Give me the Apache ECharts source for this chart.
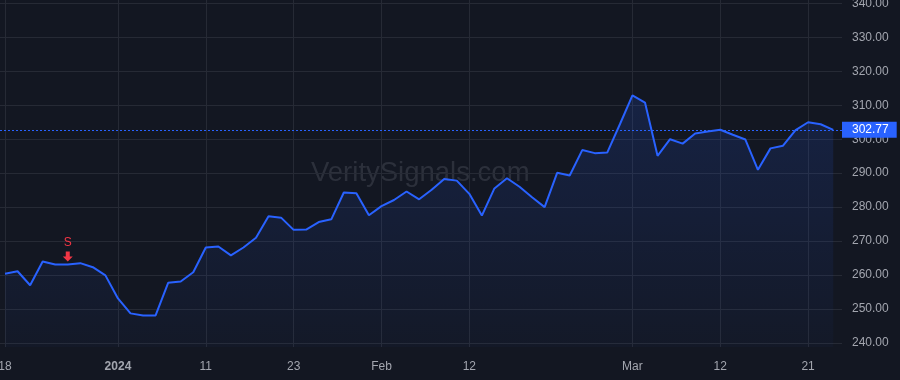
<!DOCTYPE html>
<html>
<head>
<meta charset="utf-8">
<script src="https://cdn.jsdelivr.net/npm/echarts@6/dist/echarts.min.js"></script>
<style>
  html, body { margin: 0; padding: 0; background: #131722; }
  #chart { width: 900px; height: 380px; }
</style>
</head>
<body>
<div id="chart"></div>
<script>
// trading days, Dec 18 2023 -> Mar 25 2024
const dates = [
  '2023-12-18','2023-12-19','2023-12-20','2023-12-21','2023-12-22','2023-12-26','2023-12-27','2023-12-28','2023-12-29',
  '2024-01-02','2024-01-03','2024-01-04','2024-01-05','2024-01-08','2024-01-09','2024-01-10','2024-01-11','2024-01-12',
  '2024-01-16','2024-01-17','2024-01-18','2024-01-19','2024-01-22','2024-01-23','2024-01-24','2024-01-25','2024-01-26',
  '2024-01-29','2024-01-30','2024-01-31',
  '2024-02-01','2024-02-02','2024-02-05','2024-02-06','2024-02-07','2024-02-08','2024-02-09','2024-02-12','2024-02-13',
  '2024-02-14','2024-02-15','2024-02-16','2024-02-20','2024-02-21','2024-02-22','2024-02-23','2024-02-26','2024-02-27',
  '2024-02-28','2024-02-29',
  '2024-03-01','2024-03-04','2024-03-05','2024-03-06','2024-03-07','2024-03-08','2024-03-11','2024-03-12','2024-03-13',
  '2024-03-14','2024-03-15','2024-03-18','2024-03-19','2024-03-20','2024-03-21','2024-03-22','2024-03-25'
];
const prices = [
  260.4, 261.1, 257.0, 264.0, 263.1, 263.1, 263.5, 262.3, 259.9,
  253.1, 248.7, 248.1, 248.1, 257.7, 258.1, 260.8, 268.1, 268.4,
  265.8, 268.1, 271.0, 277.3, 276.9, 273.3, 273.4, 275.6, 276.4,
  284.3, 284.1, 277.6,
  280.3, 282.1, 284.6, 282.3, 285.1, 288.3, 287.8, 283.9, 277.5,
  285.5, 288.5, 286.0, 282.9, 280.0, 290.1, 289.3, 296.8, 295.9,
  296.1, 304.4,
  312.9, 310.8, 295.1, 300.0, 298.7, 301.7, 302.3, 302.8, 301.3,
  299.9, 291.0, 297.3, 298.1, 302.7, 305.0, 304.4, 302.77
];
const tickDates = ['2023-12-18','2024-01-02','2024-01-11','2024-01-23','2024-02-01','2024-02-12','2024-03-01','2024-03-12','2024-03-21'];
const tickLabels = ['18','2024','11','23','Feb','12','Mar','12','21'];
const priceTicks = [240, 250, 260, 270, 280, 290, 300, 310, 320, 330, 340];
const lastPrice = 302.77;
const signalDate = '2023-12-26';
const signalText = 'S';

const chart = echarts.init(document.getElementById('chart'));

const points = prices.map((p, i) => [i, p]);
const tickIdx = tickDates.map(d => dates.indexOf(d));
const sigIdx = dates.indexOf(signalDate);
const font = 'Liberation Sans, Arial, sans-serif';

const option = {
  backgroundColor: '#131722',
  animation: false,
  textStyle: { fontFamily: font },
  grid: { left: 0, right: 58, top: 0, bottom: 33, outerBoundsMode: 'none', containLabel: false },
  graphic: [{
    type: 'text',
    left: 311,
    top: 159,
    z: 0,
    style: {
      text: 'VeritySignals.com',
      font: '27.5px ' + font,
      fill: 'rgba(120,124,136,0.25)'
    }
  }],
  xAxis: {
    type: 'value',
    min: -0.4,
    max: 66.7,
    axisLine: { show: false },
    axisTick: { show: false, customValues: tickIdx },
    splitLine: { show: true, lineStyle: { color: '#262a35', width: 1 } },
    axisLabel: {
      customValues: tickIdx,
      color: '#a3a6af',
      fontSize: 12,
      margin: 14,
      hideOverlap: false,
      formatter: v => {
        const t = tickLabels[tickIdx.indexOf(v)];
        return /^\d{4}$/.test(t) ? '{b|' + t + '}' : t;
      },
      rich: { b: { fontWeight: 'bold', color: '#a3a6af', fontSize: 12 } }
    }
  },
  yAxis: {
    type: 'value',
    position: 'right',
    min: 238.8,
    max: 341,
    scale: true,
    axisLine: { show: false },
    axisTick: { show: false, customValues: priceTicks },
    splitLine: { show: true, lineStyle: { color: '#262a35', width: 1 } },
    axisLabel: {
      customValues: priceTicks,
      color: '#a3a6af',
      fontSize: 12,
      margin: 10,
      formatter: v => v.toFixed(2)
    }
  },
  series: [{
    type: 'line',
    data: points,
    showSymbol: false,
    lineStyle: { color: '#2962ff', width: 2 },
    areaStyle: {
      origin: 'start',
      color: new echarts.graphic.LinearGradient(0, 0, 0, 1, [
        { offset: 0, color: 'rgba(41,98,255,0.22)' },
        { offset: 1, color: 'rgba(41,98,255,0.04)' }
      ])
    },
    markLine: {
      silent: true,
      symbol: 'none',
      lineStyle: { color: '#2962ff', type: [2, 2], width: 1, opacity: 1 },
      label: {
        position: 'end',
        distance: 0,
        formatter: lastPrice.toFixed(2),
        color: '#ffffff',
        fontSize: 12,
        backgroundColor: '#2962ff',
        padding: [2, 8, 2, 10]
      },
      data: [{ yAxis: lastPrice }]
    },
    markPoint: {
      silent: true,
      data: [{
        coord: [sigIdx, prices[sigIdx]],
        symbol: 'path://M3,0 L7,0 L7,5 L10,5 L5,10 L0,5 L3,5 Z',
        symbolSize: [10, 10],
        symbolOffset: [0, -8],
        itemStyle: { color: '#f23645' },
        label: {
          show: true,
          position: 'top',
          distance: 3,
          formatter: signalText,
          color: '#f23645',
          fontSize: 12
        }
      }]
    }
  }]
};

chart.setOption(option);
</script>
</body>
</html>
